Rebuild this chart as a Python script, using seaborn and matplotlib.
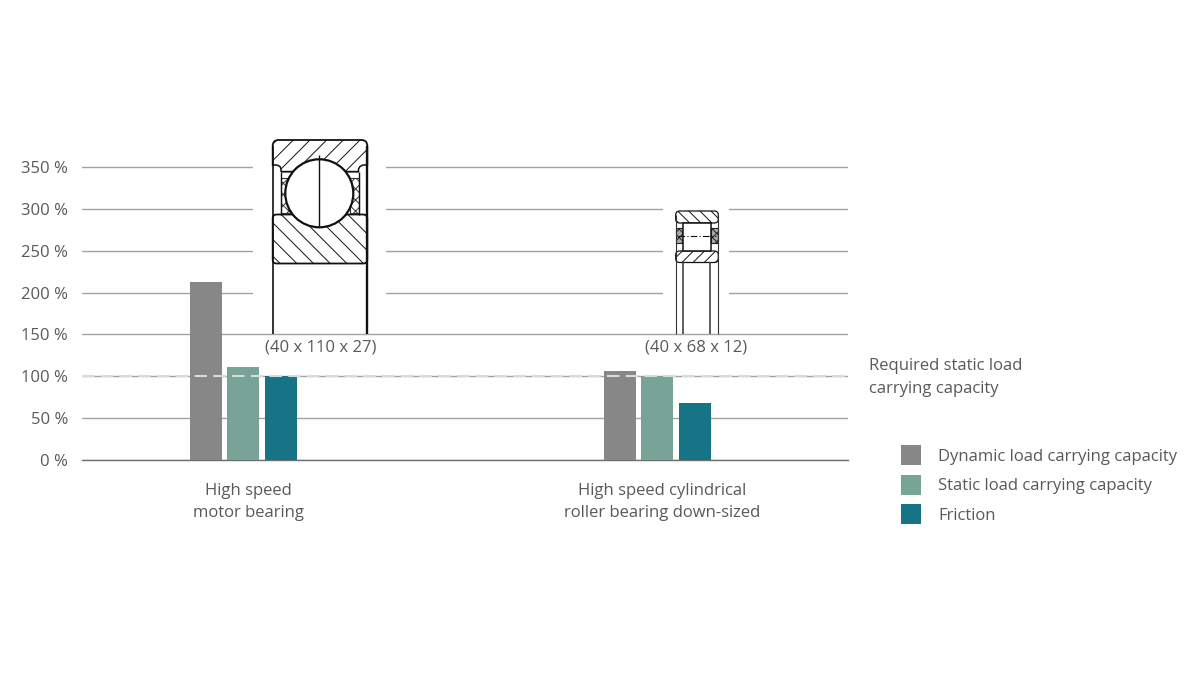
import pandas as pd
import matplotlib.pyplot as plt
import seaborn as sns
from matplotlib.patches import Circle, FancyBboxPatch, Rectangle

# -----------------------------
# Data
# -----------------------------
bearings = ["High speed\nmotor bearing", "High speed cylindrical\nroller bearing down-sized"]
metrics = ["Dynamic load carrying capacity", "Static load carrying capacity", "Friction"]
dynamic_load = [213, 106]
static_load = [111, 100]
friction = [100, 68]
y_ticks = [0, 50, 100, 150, 200, 250, 300, 350]
y_labels = ["0 %", "50 %", "100 %", "150 %", "200 %", "250 %", "300 %", "350 %"]

df = pd.DataFrame({
    "bearing": bearings * 3,
    "metric": [m for m in metrics for _ in bearings],
    "value": dynamic_load + static_load + friction,
})

# -----------------------------
# Settings
# -----------------------------
sns.set_theme(style="white")
plt.rcParams["font.family"] = ["Open Sans", "DejaVu Sans"]
plt.rcParams["hatch.linewidth"] = 0.7
plt.rcParams["hatch.color"] = "#222222"

TEXT = "#595959"
FONT = 12
palette = ["#878787", "#78a397", "#177486"]

fig = plt.figure(figsize=(12, 6.75), dpi=100)
ax = fig.add_axes([82 / 1200, 1 - 460 / 675, 766 / 1200, 320 / 675])

sns.barplot(
    data=df, x="bearing", y="value", hue="metric", order=bearings, hue_order=metrics,
    palette=palette, width=0.272, gap=0.147, saturation=1, linewidth=0, ax=ax, zorder=3,
)

ax.set_xlim(-0.389, 1.461)
ax.set_ylim(0, 382.3)
ax.set_xlabel("")
ax.set_ylabel("")
ax.set_yticks(y_ticks, y_labels)
ax.set_xticks([0.012, 1.012], bearings, linespacing=1.52)
ax.tick_params(axis="y", length=0, pad=10, labelsize=FONT, labelcolor=TEXT)
ax.tick_params(axis="x", length=0, pad=16.5, labelsize=FONT, labelcolor=TEXT)
ax.yaxis.grid(True, color="#a3a3a3", linewidth=1)
ax.set_axisbelow(True)
for side in ["top", "left", "right"]:
    ax.spines[side].set_visible(False)
ax.spines["bottom"].set_color("#6e6e6e")
ax.spines["bottom"].set_linewidth(1)

# required capacity marker, runs over the bars
ax.axhline(100, color="#d5dcd9", linewidth=1.5, linestyle=(0, (6, 3)), zorder=4)

handles, labels = ax.get_legend_handles_labels()
ax.legend(
    handles, labels, loc="upper left", bbox_to_anchor=(901 / 1200, 1 - 445 / 675),
    bbox_transform=fig.transFigure, frameon=False, fontsize=FONT, labelcolor=TEXT,
    handlelength=1.2, handleheight=1.47, handletextpad=1.05, labelspacing=0.57,
    borderpad=0, borderaxespad=0,
)

# -----------------------------
# Bearing sketches, in pixel coordinates
# -----------------------------
sk = fig.add_axes([0, 0, 1, 1], zorder=5)
sk.set_xlim(0, 1200)
sk.set_ylim(675, 0)
sk.axis("off")


def ring(x, y, w, h, hatch, r=4, lw=1.3):
    sk.add_patch(FancyBboxPatch((x, y), w, h, boxstyle=f"round,pad=0,rounding_size={r}",
                                facecolor="white", edgecolor="#111111", linewidth=lw, hatch=hatch))


def line(xs, ys, lw=1.2, **kw):
    sk.plot(xs, ys, color=kw.pop("color", "#111111"), linewidth=lw, solid_capstyle="butt", **kw)


# white gaps in the grid behind the sketches
sk.add_patch(Rectangle((253, 135), 133, 195, facecolor="white", edgecolor="none"))
sk.add_patch(Rectangle((663, 205), 66, 125, facecolor="white", edgecolor="none"))

# big ball bearing
ring(272.7, 140, 94.6, 31.7, "//", r=6)
sk.add_patch(Rectangle((271, 165.5), 10, 8, facecolor="white", edgecolor="none"))
sk.add_patch(Rectangle((358.5, 165.5), 10, 8, facecolor="white", edgecolor="none"))
line([272.7, 277, 280, 281, 281], [165, 165, 166.5, 169, 172], lw=1.1)
line([367.3, 363, 360, 358.5, 358.5], [165, 165, 166.5, 169, 172], lw=1.1)
line([281, 281], [172, 215], lw=1)
line([358.5, 358.5], [172, 215], lw=1)
ring(272.7, 214.5, 94.6, 49, "\\\\", r=4)
for cx in [281, 349.5]:
    sk.add_patch(Rectangle((cx, 178), 9, 35, facecolor="white", edgecolor="#333333",
                           linewidth=0.8, hatch="xxx"))
sk.add_patch(Circle((319.3, 193.3), 34, facecolor="white", edgecolor="#111111", linewidth=1.6))
line([319.3, 319.3], [155, 227], lw=1)
line([272.7, 272.7], [146, 334], lw=1.2)
line([367.3, 367.3], [146, 334], lw=1.7)

# small roller bearing
ring(675.7, 211, 42.6, 12, "\\\\\\", r=4, lw=0.9)
ring(675.7, 251, 42.6, 11.5, "///", r=4, lw=0.9)
for cx in [676, 711]:
    sk.add_patch(Rectangle((cx, 228), 7, 15, facecolor="#aaaaaa", edgecolor="#222222",
                           linewidth=0.8, hatch="xxxx"))
sk.add_patch(Rectangle((682.8, 223), 28, 28, facecolor="white", edgecolor="#111111", linewidth=1.1))
line([678, 716], [236, 236], lw=0.8, linestyle=(0, (6, 2, 1, 2)))
line([675.7, 675.7], [215, 334], lw=0.8, color="#333333")
line([683.3, 683.3], [262, 334], lw=1.1, color="#333333")
line([710.3, 710.3], [262, 334], lw=1.1, color="#333333")
line([718.3, 718.3], [215, 334], lw=0.8, color="#333333")

# -----------------------------
# Annotations
# -----------------------------
sk.text(321, 347.5, "(40 x 110 x 27)", ha="center", va="center", fontsize=FONT, color=TEXT)
sk.text(696, 347.5, "(40 x 68 x 12)", ha="center", va="center", fontsize=FONT, color=TEXT)
sk.text(869, 366, "Required static load", ha="left", va="center", fontsize=FONT, color=TEXT)
sk.text(869, 389, "carrying capacity", ha="left", va="center", fontsize=FONT, color=TEXT)

fig.savefig("out.png", dpi=100)
